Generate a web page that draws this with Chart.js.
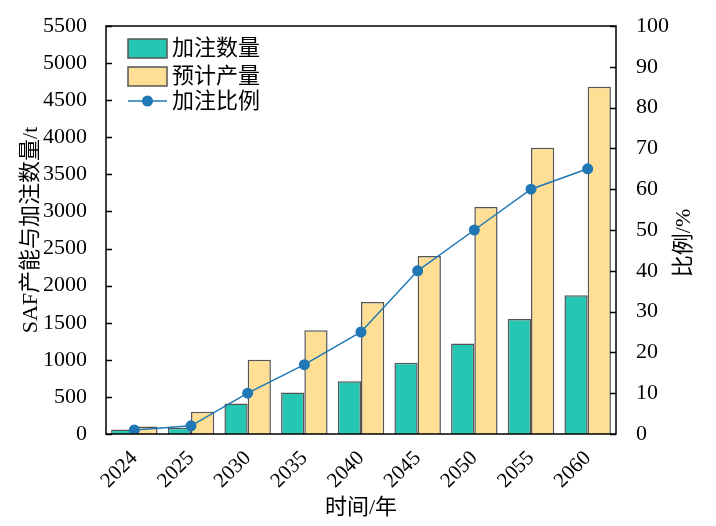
<!DOCTYPE html>
<html>
<head>
<meta charset="utf-8">
<script src="https://cdn.jsdelivr.net/npm/chart.js@4/dist/chart.umd.min.js"></script>
<style>
  html, body { margin: 0; padding: 0; background: #fff; }
  #wrap { width: 716px; height: 526px; }
</style>
</head>
<body>
<div id="wrap"><canvas id="my-chart" width="716" height="526"></canvas></div>
<script>
// data
const years = ['2024', '2025', '2030', '2035', '2040', '2045', '2050', '2055', '2060'];
const fillAmount = [60, 85, 410, 560, 710, 960, 1220, 1550, 1870];      // 加注数量 (t)
const capacity = [100, 300, 1000, 1400, 1780, 2400, 3060, 3860, 4680];  // 预计产量 (t)
const ratio = [1, 2, 10, 17, 25, 40, 50, 60, 65];                        // 加注比例 (%)

const leftTicks = [0, 500, 1000, 1500, 2000, 2500, 3000, 3500, 4000, 4500, 5000, 5500];
const rightTicks = [0, 10, 20, 30, 40, 50, 60, 70, 80, 90, 100];

const FONT = "'Liberation Serif', 'Times New Roman', 'Noto Sans CJK SC', serif";
const TEAL = '#26c6b5';
const YELLOW = '#ffdf95';
const EDGE = '#555555';
const BLUE = '#1f77b4';

// frame, inward ticks, right title and legend
const extras = {
    id: 'extras',
    afterDraw(chart) {
        const ctx = chart.ctx;
        const a = chart.chartArea;
        const y = chart.scales.y, y1 = chart.scales.y1;
        ctx.save();
        ctx.strokeStyle = '#000';
        ctx.lineWidth = 1.5;
        ctx.strokeRect(a.left, a.top, a.right - a.left, a.bottom - a.top);
        ctx.beginPath();
        leftTicks.forEach(v => {
            const p = Math.round(y.getPixelForValue(v)) + 0.5;
            ctx.moveTo(a.left, p); ctx.lineTo(a.left + 6, p);
        });
        rightTicks.forEach(v => {
            const p = Math.round(y1.getPixelForValue(v)) + 0.5;
            ctx.moveTo(a.right, p); ctx.lineTo(a.right - 6, p);
        });
        ctx.stroke();

        // right axis title, reading bottom to top
        ctx.fillStyle = '#000';
        ctx.font = '22px ' + FONT;
        ctx.textAlign = 'center';
        ctx.textBaseline = 'middle';
        ctx.translate(684, 243);
        ctx.rotate(-Math.PI / 2);
        ctx.fillText('比例/%', 0, 0);
        ctx.restore();

        // legend
        ctx.save();
        ctx.lineWidth = 1.5;
        ctx.strokeStyle = EDGE;
        ctx.fillStyle = TEAL;
        ctx.fillRect(128, 39, 39, 19);
        ctx.strokeRect(128, 39, 39, 19);
        ctx.fillStyle = YELLOW;
        ctx.fillRect(128, 67, 39, 19);
        ctx.strokeRect(128, 67, 39, 19);
        ctx.strokeStyle = BLUE;
        ctx.beginPath();
        ctx.moveTo(128, 101); ctx.lineTo(167, 101);
        ctx.stroke();
        ctx.fillStyle = BLUE;
        ctx.beginPath();
        ctx.arc(147.5, 101, 5.5, 0, Math.PI * 2);
        ctx.fill();
        ctx.fillStyle = '#000';
        ctx.font = '22px ' + FONT;
        ctx.textBaseline = 'middle';
        ctx.fillText('加注数量', 172, 49);
        ctx.fillText('预计产量', 172, 77);
        ctx.fillText('加注比例', 172, 102);
        ctx.restore();
    }
};

const ctx = document.getElementById('my-chart').getContext('2d');
const chart = new Chart(ctx, {
    type: 'bar',
    data: {
        labels: years,
        datasets: [
            {
                type: 'line',
                label: '加注比例',
                data: ratio,
                yAxisID: 'y1',
                borderColor: BLUE,
                backgroundColor: BLUE,
                borderWidth: 1.5,
                pointRadius: 5.5,
                pointBorderWidth: 0,
                order: 0
            },
            {
                label: '加注数量',
                data: fillAmount,
                yAxisID: 'y',
                backgroundColor: TEAL,
                borderColor: EDGE,
                borderWidth: 1.5,
                barPercentage: 1,
                categoryPercentage: 0.82,
                order: 1
            },
            {
                label: '预计产量',
                data: capacity,
                yAxisID: 'y',
                backgroundColor: YELLOW,
                borderColor: EDGE,
                borderWidth: 1.5,
                barPercentage: 1,
                categoryPercentage: 0.82,
                order: 1
            }
        ]
    },
    options: {
        responsive: false,
        animation: false,
        layout: { padding: { top: 26, left: 0, right: 0, bottom: 0 } },
        plugins: {
            legend: { display: false },
            tooltip: { enabled: false }
        },
        scales: {
            x: {
                grid: { display: false },
                border: { display: false },
                ticks: {
                    color: '#000',
                    font: { family: FONT, size: 21 },
                    minRotation: 45,
                    maxRotation: 45,
                    padding: 4
                },
                title: {
                    display: true,
                    text: '时间/年',
                    color: '#000',
                    font: { family: FONT, size: 22 },
                    padding: { top: 0, bottom: 5 }
                },
                afterFit: s => { s.height = 92; }
            },
            y: {
                position: 'left',
                min: 0,
                max: 5500,
                grid: { display: false },
                border: { display: false },
                ticks: {
                    stepSize: 500,
                    color: '#000',
                    font: { family: FONT, size: 22 },
                    padding: 11,
                    callback: v => String(v)
                },
                title: {
                    display: true,
                    text: 'SAF产能与加注数量/t',
                    color: '#000',
                    font: { family: FONT, size: 22 },
                    padding: { top: 18, bottom: 0 }
                },
                afterFit: s => { s.width = 106; }
            },
            y1: {
                position: 'right',
                min: 0,
                max: 100,
                grid: { display: false },
                border: { display: false },
                ticks: {
                    stepSize: 10,
                    color: '#000',
                    font: { family: FONT, size: 22 },
                    padding: 12,
                    callback: v => String(v)
                },
                afterFit: s => { s.width = 100; }
            }
        }
    },
    plugins: [extras]
});
</script>
</body>
</html>
